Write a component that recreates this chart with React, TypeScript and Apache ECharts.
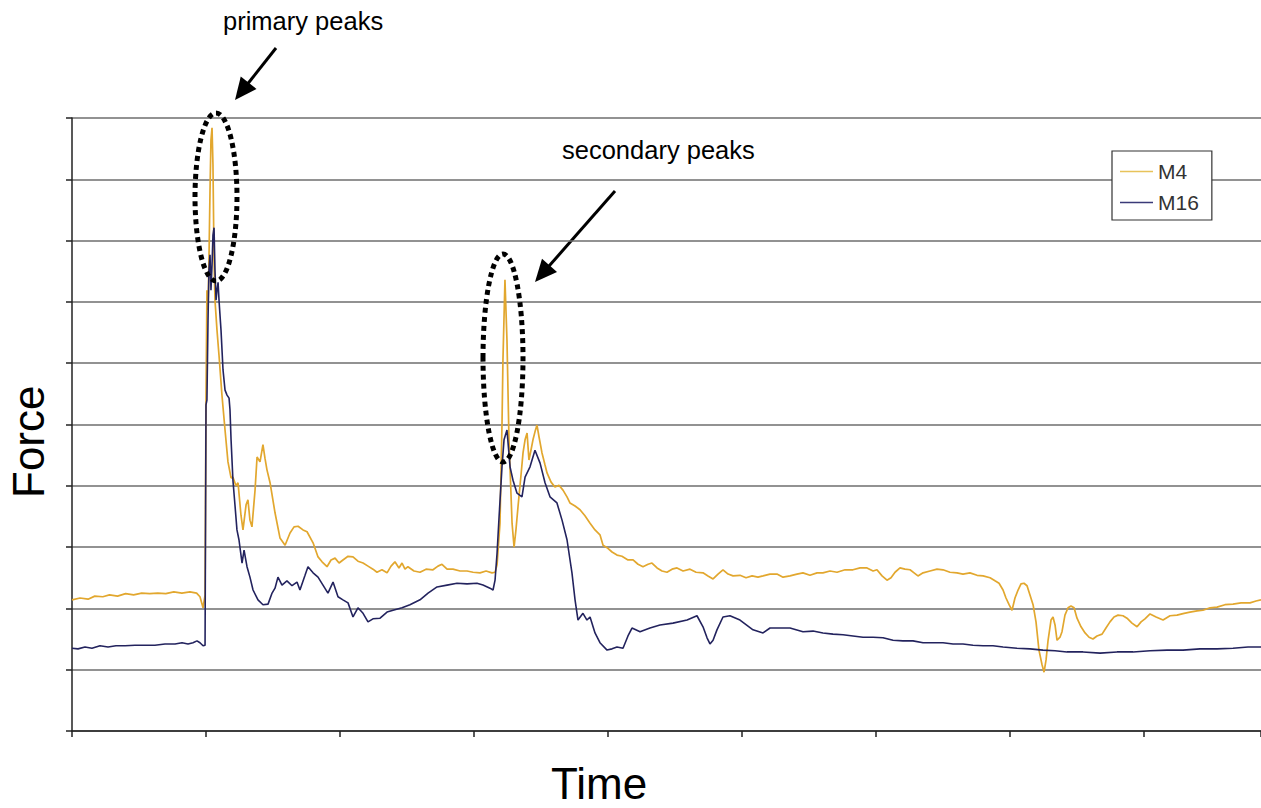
import React, { useEffect, useRef } from "react";
import * as echarts from "echarts";

// Series names
const seriesNames = ["M4", "M16"];

// M4: [time, force]
const m4Points: number[][] = [
  [0, 21.4], [0.6, 21.7], [1.2, 21.5], [1.7, 22.0], [2.3, 21.9], [2.8, 22.2], [3.4, 22.0], [4.0, 22.4],
  [4.6, 22.2], [5.2, 22.5], [5.8, 22.4], [6.4, 22.5], [7.0, 22.4], [7.6, 22.7], [8.2, 22.5], [8.8, 22.7],
  [9.3, 22.5], [9.55, 21.9], [9.78, 20.1], [9.93, 22.2], [10.0, 54.0], [10.07, 71.9], [10.15, 68.7],
  [10.22, 76.8], [10.3, 88.3], [10.37, 96.4], [10.45, 98.4], [10.52, 92.3], [10.6, 76.8], [10.67, 70.3],
  [10.82, 65.4], [10.97, 61.3], [11.19, 54.8], [11.42, 49.1], [11.64, 43.9], [11.87, 41.3], [12.01, 41.4],
  [12.24, 40.0], [12.39, 40.5], [12.61, 35.2], [12.76, 32.8], [12.99, 36.9], [13.13, 37.7], [13.28, 34.4],
  [13.43, 33.3], [13.66, 39.3], [13.81, 44.7], [14.03, 43.9], [14.25, 46.7], [14.4, 44.5], [14.55, 42.6],
  [14.78, 40.5], [15.15, 35.6], [15.52, 31.5], [15.9, 30.3], [16.27, 32.3], [16.57, 33.3], [16.87, 33.4],
  [17.24, 32.8], [17.54, 32.5], [17.99, 30.7], [18.36, 28.4], [18.66, 27.6], [19.03, 26.8], [19.33, 27.9],
  [19.63, 28.2], [19.93, 27.4], [20.22, 27.9], [20.6, 28.5], [20.97, 28.4], [21.34, 27.7], [21.72, 27.4],
  [22.09, 26.9], [22.46, 26.4], [22.76, 25.9], [23.13, 26.3], [23.51, 25.8], [23.81, 26.9], [24.1, 27.6],
  [24.4, 26.6], [24.63, 27.4], [24.85, 26.4], [25.07, 26.8], [25.52, 26.1], [25.97, 25.9], [26.42, 26.4],
  [26.94, 26.3], [27.31, 26.9], [27.61, 27.2], [27.99, 26.4], [28.43, 26.4], [28.96, 26.1], [29.48, 26.1],
  [29.93, 25.9], [30.45, 25.8], [30.9, 26.1], [31.34, 25.8], [31.57, 25.9], [31.72, 27.1], [31.94, 33.9],
  [32.09, 50.2], [32.16, 60.5], [32.31, 73.6], [32.46, 63.8], [32.61, 47.5], [32.84, 33.9], [32.99, 30.0],
  [33.13, 32.8], [33.28, 36.5], [33.51, 41.8], [33.66, 45.4], [33.81, 47.5], [33.96, 48.6], [34.1, 44.2],
  [34.25, 45.8], [34.4, 47.5], [34.55, 48.8], [34.7, 49.9], [34.85, 48.0], [35.07, 45.4], [35.3, 43.4],
  [35.45, 42.1], [35.75, 40.6], [36.04, 39.8], [36.34, 40.1], [36.64, 39.3], [36.94, 38.2], [37.16, 37.2],
  [37.54, 36.7], [37.91, 36.1], [38.28, 35.1], [38.66, 33.9], [39.03, 32.8], [39.4, 32.0], [39.63, 30.3],
  [39.93, 29.9], [40.3, 29.2], [40.67, 28.7], [41.04, 28.5], [41.49, 27.9], [41.87, 27.9], [42.24, 27.2],
  [42.61, 26.8], [42.99, 27.2], [43.28, 27.4], [43.66, 26.6], [44.03, 26.1], [44.4, 25.9], [44.78, 26.4],
  [45.15, 26.6], [45.6, 26.1], [46.12, 26.4], [46.57, 25.9], [47.09, 25.8], [47.46, 25.3], [47.84, 24.8],
  [48.21, 25.6], [48.58, 26.3], [48.96, 25.6], [49.33, 25.3], [49.85, 25.4], [50.3, 25.0], [50.75, 25.3],
  [51.19, 25.1], [51.57, 25.3], [52.09, 25.6], [52.61, 25.6], [53.06, 25.1], [53.58, 25.3], [54.1, 25.6],
  [54.55, 25.8], [55.07, 25.4], [55.6, 25.8], [56.04, 25.8], [56.57, 26.1], [57.09, 25.9], [57.69, 26.3],
  [58.28, 26.3], [58.81, 26.6], [59.33, 26.6], [59.78, 26.1], [60.07, 26.3], [60.45, 25.3], [60.82, 24.6],
  [61.12, 25.0], [61.42, 25.9], [61.79, 26.6], [62.16, 26.4], [62.54, 26.3], [62.84, 25.8], [63.13, 25.3],
  [63.51, 25.8], [64.03, 26.1], [64.55, 26.4], [65.0, 26.3], [65.52, 25.9], [66.04, 25.8], [66.49, 25.6],
  [67.01, 25.8], [67.54, 25.4], [67.99, 25.3], [68.51, 25.0], [68.88, 24.5], [69.18, 24.1], [69.48, 23.0],
  [69.7, 21.7], [69.93, 20.6], [70.15, 19.7], [70.37, 21.7], [70.6, 23.0], [70.82, 24.0], [71.04, 24.1],
  [71.27, 23.7], [71.49, 22.2], [71.72, 20.6], [71.94, 17.8], [72.16, 13.2], [72.39, 10.8], [72.54, 9.6],
  [72.69, 11.6], [72.84, 14.8], [73.06, 18.1], [73.21, 18.6], [73.36, 17.3], [73.51, 14.8], [73.73, 15.3],
  [73.88, 16.2], [74.1, 18.9], [74.33, 20.1], [74.55, 20.4], [74.78, 20.1], [75.0, 18.4], [75.3, 17.0],
  [75.6, 16.0], [75.9, 15.3], [76.19, 15.0], [76.49, 15.5], [76.87, 15.8], [77.16, 16.8], [77.46, 17.8],
  [77.76, 18.6], [78.06, 18.9], [78.43, 18.8], [78.73, 18.4], [79.1, 17.6], [79.48, 17.0], [79.78, 17.8],
  [80.07, 18.3], [80.45, 19.1], [80.9, 18.6], [81.42, 18.1], [81.94, 18.8], [82.46, 18.9], [82.99, 19.2],
  [83.43, 19.4], [83.96, 19.6], [84.4, 19.7], [84.93, 20.1], [85.45, 20.2], [86.04, 20.6], [86.64, 20.7],
  [87.24, 20.9], [87.91, 20.9], [88.36, 21.2], [88.73, 21.4],
];

// M16: [time, force]
const m16Points: number[][] = [
  [0, 13.5], [0.45, 13.4], [0.97, 13.7], [1.49, 13.5], [2.09, 13.9], [2.69, 13.7], [3.28, 13.9], [3.96, 13.9],
  [4.7, 14.0], [5.45, 14.0], [6.19, 14.0], [6.94, 14.2], [7.69, 14.2], [8.21, 14.4], [8.66, 14.2], [9.03, 14.4],
  [9.33, 14.7], [9.55, 14.4], [9.78, 13.9], [9.93, 14.0], [10.0, 53.2], [10.07, 54.0], [10.15, 67.0],
  [10.22, 75.2], [10.3, 77.7], [10.37, 71.9], [10.45, 76.0], [10.52, 80.9], [10.6, 82.1], [10.67, 75.2],
  [10.75, 70.3], [10.82, 71.9], [10.9, 73.2], [10.97, 70.3], [11.12, 65.4], [11.27, 58.9], [11.42, 55.6],
  [11.57, 54.8], [11.72, 54.3], [11.79, 52.4], [11.87, 47.5], [12.01, 40.9], [12.16, 36.9], [12.31, 32.8],
  [12.46, 31.2], [12.69, 27.4], [12.84, 29.5], [13.06, 26.8], [13.28, 25.1], [13.51, 23.0], [13.88, 21.4],
  [14.25, 20.6], [14.63, 20.7], [14.93, 22.5], [15.15, 23.3], [15.37, 25.1], [15.67, 23.8], [16.04, 24.5],
  [16.42, 23.7], [16.79, 24.3], [17.01, 23.0], [17.39, 25.4], [17.61, 26.8], [17.99, 25.8], [18.36, 25.1],
  [18.73, 23.8], [19.1, 22.5], [19.48, 24.3], [19.85, 21.9], [20.22, 21.4], [20.6, 20.9], [20.97, 18.6],
  [21.34, 20.1], [21.72, 19.2], [22.09, 17.8], [22.46, 18.3], [22.99, 18.4], [23.51, 19.4], [23.96, 19.7],
  [24.63, 20.1], [25.22, 20.6], [25.97, 21.4], [26.57, 22.5], [27.24, 23.5], [27.99, 23.8], [28.73, 24.1],
  [29.48, 24.0], [30.22, 24.1], [30.67, 23.8], [31.19, 23.3], [31.42, 23.0], [31.57, 24.6], [31.72, 29.0],
  [31.87, 34.9], [32.09, 43.1], [32.24, 47.5], [32.46, 49.1], [32.69, 43.1], [32.91, 40.9], [33.21, 38.8],
  [33.58, 38.2], [33.81, 41.4], [34.18, 43.1], [34.55, 45.8], [34.93, 43.7], [35.3, 40.5], [35.67, 38.2],
  [36.19, 37.2], [36.57, 34.4], [36.94, 31.2], [37.31, 25.8], [37.54, 21.4], [37.76, 18.1], [38.13, 19.2],
  [38.43, 18.1], [38.66, 18.6], [39.03, 16.0], [39.4, 14.4], [39.93, 13.2], [40.3, 13.4], [40.67, 13.7],
  [41.12, 13.5], [41.49, 15.5], [41.79, 16.8], [42.39, 16.2], [43.13, 16.8], [43.88, 17.3], [44.85, 17.6],
  [45.9, 18.1], [46.64, 18.8], [47.09, 17.0], [47.39, 15.2], [47.61, 14.2], [47.84, 14.8], [48.13, 16.5],
  [48.58, 18.6], [49.1, 18.8], [49.85, 18.1], [50.82, 16.5], [51.57, 16.0], [52.09, 16.8], [52.61, 16.8],
  [53.58, 16.8], [54.55, 16.2], [55.3, 16.3], [56.04, 16.0], [56.79, 15.8], [57.54, 15.7], [58.28, 15.5],
  [59.03, 15.3], [59.78, 15.3], [60.52, 15.2], [61.27, 14.8], [62.01, 14.7], [62.76, 14.7], [63.51, 14.4],
  [64.25, 14.4], [65.0, 14.4], [65.75, 14.2], [66.49, 14.2], [67.24, 14.0], [67.99, 13.9], [68.73, 13.9],
  [69.48, 13.7], [70.52, 13.5], [71.49, 13.4], [72.46, 13.2], [73.36, 13.1], [74.25, 12.9], [75.45, 12.9],
  [76.72, 12.7], [77.99, 12.9], [79.18, 12.9], [80.45, 13.1], [81.72, 13.2], [82.91, 13.2], [84.18, 13.4],
  [85.45, 13.4], [86.64, 13.5], [87.76, 13.7], [88.73, 13.7],
];

// Axis extents (time ticks every 10, force gridlines every 10)
const timeMax = 88.73;
const forceMax = 100;
const tickStep = 10;

// Texts
const xTitle = "Time";
const yTitle = "Force";
const primaryLabel = "primary peaks";
const secondaryLabel = "secondary peaks";

function arrow(x1: number, y1: number, x2: number, y2: number) {
  const dx = x2 - x1;
  const dy = y2 - y1;
  const len = Math.sqrt(dx * dx + dy * dy);
  const ux = dx / len;
  const uy = dy / len;
  const L = 22;
  const W = 10;
  const bx = x2 - ux * L;
  const by = y2 - uy * L;
  return [
    {
      type: "line",
      shape: { x1, y1, x2: bx + ux * 2, y2: by + uy * 2 },
      style: { stroke: "#000", lineWidth: 3 },
      silent: true,
    },
    {
      type: "polygon",
      shape: {
        points: [
          [x2, y2],
          [bx - uy * W, by + ux * W],
          [bx + uy * W, by - ux * W],
        ],
      },
      style: { fill: "#000" },
      silent: true,
    },
  ];
}

export default function App() {
  const ref = useRef<HTMLDivElement>(null);
  useEffect(() => {
    if (!ref.current) return;
    const chart = echarts.init(ref.current, undefined, { renderer: "svg" });
    const font = "Arial, 'Liberation Sans', sans-serif";
    chart.setOption({
      animation: false,
      backgroundColor: "#ffffff",
      grid: { left: 72, right: 0, top: 118, bottom: 77, containLabel: false },
      xAxis: {
        type: "value",
        min: 0,
        max: timeMax,
        interval: tickStep,
        axisLine: { show: true, lineStyle: { color: "#222", width: 1.5 } },
        axisTick: { show: true, inside: false, length: 6, lineStyle: { color: "#222", width: 1.5 } },
        axisLabel: { show: false },
        splitLine: { show: false },
      },
      yAxis: {
        type: "value",
        min: 0,
        max: forceMax,
        interval: tickStep,
        axisLine: { show: true, onZero: false, lineStyle: { color: "#222", width: 1.5 } },
        axisTick: { show: true, inside: false, length: 6, lineStyle: { color: "#222", width: 1.5 } },
        axisLabel: { show: false },
        splitLine: { show: true, lineStyle: { color: "#6e6e6e", width: 1.6 } },
      },
      legend: {
        show: true,
        orient: "vertical",
        left: 1112,
        top: 151,
        padding: [10, 13, 7, 8],
        itemGap: 10,
        itemWidth: 33,
        itemHeight: 1.5,
        icon: "rect",
        backgroundColor: "#ffffff",
        borderColor: "#333",
        borderWidth: 1.2,
        borderRadius: 0,
        textStyle: { fontSize: 21, fontFamily: font, color: "#333", lineHeight: 21 },
        data: [
          { name: seriesNames[0], itemStyle: { color: "#E8C35A" } },
          { name: seriesNames[1], itemStyle: { color: "#3A3A78" } },
        ],
      },
      series: [
        {
          name: seriesNames[0],
          type: "line",
          symbol: "none",
          showSymbol: false,
          data: m4Points,
          color: "#E2A72E",
          lineStyle: { color: "#E2A72E", width: 1.7 },
          z: 2,
        },
        {
          name: seriesNames[1],
          type: "line",
          symbol: "none",
          showSymbol: false,
          data: m16Points,
          color: "#23235E",
          lineStyle: { color: "#23235E", width: 1.6 },
          z: 3,
        },
      ],
      graphic: [
        {
          type: "text",
          x: 551,
          y: 761,
          style: { text: xTitle, font: `44px ${font}`, fill: "#000" },
          silent: true,
        },
        {
          type: "text",
          x: 6,
          y: 498,
          rotation: Math.PI / 2,
          style: { text: yTitle, font: `44px ${font}`, fill: "#000", textVerticalAlign: "top" },
          silent: true,
        },
        {
          type: "text",
          x: 223,
          y: 8,
          style: { text: primaryLabel, font: `25.5px ${font}`, fill: "#000" },
          silent: true,
        },
        {
          type: "text",
          x: 562,
          y: 137,
          style: { text: secondaryLabel, font: `25.5px ${font}`, fill: "#000" },
          silent: true,
        },
        ...arrow(276, 48, 235, 100),
        ...arrow(615, 191, 535, 282),
        {
          type: "ellipse",
          shape: { cx: 216, cy: 197, rx: 21, ry: 84 },
          style: { fill: "none", stroke: "#000", lineWidth: 5, lineDash: [5, 4] },
          z: 100,
          silent: true,
        },
        {
          type: "ellipse",
          shape: { cx: 503, cy: 358, rx: 20, ry: 104 },
          style: { fill: "none", stroke: "#000", lineWidth: 5, lineDash: [5, 4] },
          z: 100,
          silent: true,
        },
      ],
    });
    return () => chart.dispose();
  }, []);
  return (
    <div
      ref={ref}
      style={{ position: "fixed", left: 0, top: 0, width: 1261, height: 808, background: "#fff" }}
    />
  );
}
